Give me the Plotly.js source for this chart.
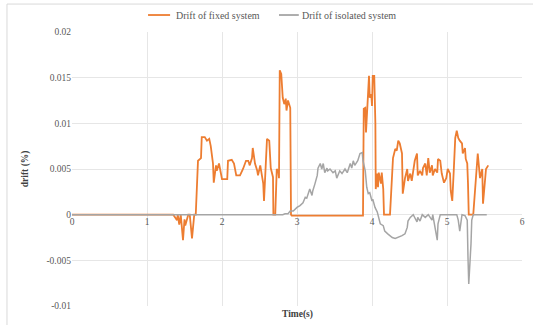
<!DOCTYPE html>
<html>
<head>
<meta charset="utf-8">
<script src="https://cdn.plot.ly/plotly-3.0.1.min.js"></script>
<style>
html,body{margin:0;padding:0;background:#fff;}
#chart{width:533px;height:325px;}
</style>
</head>
<body>
<div id="chart"></div>
<script>
// Drift of fixed system (orange)
const fixedTime = [0, 1.35, 1.40, 1.41, 1.43, 1.45, 1.48, 1.50, 1.51, 1.55, 1.57, 1.60, 1.63, 1.65, 1.68, 1.72, 1.73, 1.77, 1.80, 1.83, 1.85, 1.88, 1.89, 1.92, 1.93, 1.96, 2.00, 2.07, 2.08, 2.13, 2.16, 2.19, 2.24, 2.28, 2.32, 2.35, 2.37, 2.40, 2.41, 2.44, 2.47, 2.48, 2.51, 2.55, 2.56, 2.59, 2.60, 2.63, 2.65, 2.68, 2.685, 2.71, 2.73, 2.75, 2.76, 2.77, 2.79, 2.81, 2.83, 2.85, 2.86, 2.88, 2.91, 2.92, 2.93, 3.3, 3.88,
  3.89, 3.91, 3.92, 3.95, 3.96, 3.97, 3.99, 4.00, 4.01, 4.03, 4.045, 4.05, 4.07, 4.08, 4.09, 4.12, 4.13, 4.15, 4.16, 4.24, 4.27, 4.28, 4.31, 4.33, 4.35, 4.37, 4.40, 4.41, 4.44, 4.47, 4.48, 4.51, 4.53, 4.55, 4.57, 4.60, 4.61, 4.64, 4.67, 4.68, 4.71, 4.73, 4.75, 4.77, 4.80, 4.81, 4.84, 4.87, 4.88, 4.91, 4.92, 4.93, 4.96, 4.99, 5.01, 5.04, 5.05, 5.07, 5.09, 5.11, 5.13, 5.15, 5.17, 5.20, 5.21, 5.24, 5.25, 5.27, 5.28, 5.29, 5.35, 5.37, 5.40, 5.41, 5.44, 5.47, 5.48, 5.51, 5.52, 5.55];
const fixedDrift = [0, 0, -0.0006, 0, -0.0011, 0, -0.0028, -0.0005, -0.0012, 0, 0, -0.0026, 0, 0, 0.0059, 0.0062, 0.0085, 0.0085, 0.0081, 0.0083, 0.0075, 0.0056, 0.0035, 0.0054, 0.0048, 0.0056, 0.0039, 0.0039, 0.0059, 0.0060, 0.0056, 0.0043, 0.0043, 0.0050, 0.0059, 0.0059, 0.0054, 0.0062, 0.0073, 0.0056, 0.0048, 0.0043, 0.0054, 0.0034, 0.0015, 0.0073, 0.0083, 0.0081, 0.0051, 0.0041, 0, 0, 0.0050, 0.0048, 0.0040, 0.0158, 0.0154, 0.0128, 0.0121, 0.0127, 0.0114, 0.0125, 0.0117, 0, -0.0001, -0.0001, -0.0001,
  0.0116, 0.0117, 0.0090, 0.0152, 0.0152, 0.0128, 0.0132, 0.0119, 0.0152, 0.0152, 0.0100, 0.0028, 0.0045, 0.0030, 0.0046, 0.0034, 0.0046, 0.0028, 0, 0, 0.0061, 0.0062, 0.0072, 0.0070, 0.0081, 0.0078, 0.0067, 0.0023, 0.0040, 0.0050, 0.0037, 0.0045, 0.0037, 0.0046, 0.0059, 0.0067, 0.0043, 0.0048, 0.0043, 0.0051, 0.0056, 0.0043, 0.0062, 0.0046, 0.0054, 0.0043, 0.0050, 0.0046, 0.0061, 0.0059, 0.0051, 0.0045, 0.0035, 0.0040, 0.0050, 0.0045, 0.0026, 0.0015, 0.0048, 0.0084, 0.0092, 0.0084, 0.0081, 0.0078, 0.0067, 0.0073, 0.0061, 0.0056, 0.0034, 0, 0, 0.0026, 0.0062, 0.0067, 0.0040, 0.0050, 0.0012, 0.0040, 0.0050, 0.0054];

// Drift of isolated system (gray)
const isoTime = [0, 2.73, 2.81, 2.84, 2.88, 2.91, 2.95, 3.00, 3.04, 3.08, 3.11, 3.13, 3.15, 3.17, 3.20, 3.21, 3.24, 3.27, 3.28, 3.31, 3.33, 3.35, 3.37, 3.40, 3.41, 3.44, 3.48, 3.51, 3.53, 3.57, 3.60, 3.64, 3.67, 3.71, 3.73, 3.75, 3.77, 3.80, 3.81, 3.84, 3.87, 3.88, 3.91, 3.93, 3.95, 3.97, 4.00, 4.01, 4.04, 4.07, 4.08, 4.11, 4.15, 4.17, 4.21, 4.27, 4.31, 4.35, 4.40, 4.44, 4.47, 4.48, 4.51, 4.55, 4.60, 4.61, 4.64, 4.67, 4.71, 4.75, 4.80, 4.81, 4.84, 4.87, 4.88, 4.91, 5.13, 5.15, 5.17, 5.20, 5.24, 5.27, 5.28, 5.29, 5.32, 5.33, 5.35, 5.53];
const isoDrift = [0, 0, 0, 0.0001, 0.0001, 0.0004, 0.0004, 0.0008, 0.0010, 0.0013, 0.0019, 0.0018, 0.0024, 0.0028, 0.0021, 0.0026, 0.0034, 0.0043, 0.0051, 0.0056, 0.0050, 0.0056, 0.0046, 0.0051, 0.0048, 0.0050, 0.0046, 0.0048, 0.0040, 0.0048, 0.0045, 0.0050, 0.0046, 0.0056, 0.0051, 0.0059, 0.0054, 0.0057, 0.0059, 0.0067, 0.0068, 0.0059, 0.0048, 0.0030, 0.0023, 0.0024, 0.0015, 0.0017, 0.0008, 0.0003, 0, -0.0010, -0.0012, -0.0018, -0.0021, -0.0025, -0.0026, -0.0025, -0.0023, -0.0021, -0.0014, -0.0007, -0.0003, 0, -0.0008, -0.0003, -0.0007, 0, -0.0003, 0, -0.0006, 0, -0.0012, -0.0028, -0.0010, 0, 0, -0.0006, -0.0018, 0, -0.0001, -0.0006, -0.0047, -0.0076, -0.0032, -0.0006, 0, 0];

const seriesNames = ["Drift of fixed system", "Drift of isolated system"];
const seriesColors = ["#ED7D31", "#A5A5A5"];
const yTickVals = [-0.01, -0.005, 0, 0.005, 0.01, 0.015, 0.02];
const yTickText = ["-0.01", "-0.005", "0", "0.005", "0.01", "0.015", "0.02"];
const xTickVals = [0, 1, 2, 3, 4, 5, 6];
const xTickText = ["0", "1", "2", "3", "4", "5", "6"];
const xTitle = "Time(s)";
const yTitle = "drift (%)";

const serif = "Liberation Serif, DejaVu Serif, serif";

const traces = [
  {x: fixedTime, y: fixedDrift, name: seriesNames[0], type: "scatter", mode: "lines",
   line: {color: seriesColors[0], width: 1.8}},
  {x: isoTime, y: isoDrift, name: seriesNames[1], type: "scatter", mode: "lines",
   line: {color: seriesColors[1], width: 1.5}}
];

// custom legend (line sample + text) placed as in the reference
const legY = 1.062;
const legItems = [
  {x0: 0.169, x1: 0.218, tx: 0.226},
  {x0: 0.460, x1: 0.504, tx: 0.507}
];
const legShapes = legItems.map((it, i) => ({type: "line", xref: "paper", yref: "paper",
  x0: it.x0, x1: it.x1, y0: legY, y1: legY, line: {color: seriesColors[i], width: 1.8}}));
const legAnns = legItems.map((it, i) => ({text: seriesNames[i], xref: "paper", yref: "paper",
  x: it.tx, y: legY, xanchor: "left", yanchor: "middle", showarrow: false,
  font: {family: serif, size: 10, color: "#595959"}}));

const layout = {
  width: 533, height: 325,
  margin: {l: 72, r: 11, t: 32, b: 19},
  paper_bgcolor: "#fff", plot_bgcolor: "#fff",
  font: {family: serif, size: 9.5, color: "#595959"},
  showlegend: false,
  xaxis: {range: [0, 6], tickvals: xTickVals, ticktext: xTickText,
    showgrid: true, gridcolor: "#e6e6e6", gridwidth: 1, zeroline: false, showline: false,
    ticks: "", anchor: "free", position: 1/3,
    tickfont: {family: serif, size: 9.5, color: "#595959"}},
  yaxis: {range: [-0.01, 0.02], tickvals: yTickVals, ticktext: yTickText,
    showgrid: true, gridcolor: "#e6e6e6", gridwidth: 1, zeroline: false, showline: false,
    ticks: "", domain: [0, 1],
    tickfont: {family: serif, size: 9.5, color: "#595959"}},
  annotations: [
    {text: "<b>" + xTitle + "</b>", xref: "paper", yref: "paper", x: 0.5, y: -0.03,
     xanchor: "center", yanchor: "middle", showarrow: false,
     font: {family: serif, size: 9.5, color: "#404040"}},
    {text: "<b>" + yTitle + "</b>", xref: "paper", yref: "paper", x: -0.104, y: 0.5,
     xanchor: "center", yanchor: "middle", textangle: -90, showarrow: false,
     font: {family: serif, size: 9.5, color: "#404040"}}
  ].concat(legAnns),
  shapes: [
    {type: "rect", xref: "paper", yref: "paper", x0: -0.1445, x1: 1.1, y0: -0.2, y1: 1.102,
     line: {color: "#d9d9d9", width: 1}, fillcolor: "rgba(0,0,0,0)", layer: "below"}
  ].concat(legShapes)
};

Plotly.newPlot("chart", traces, layout, {staticPlot: true, displayModeBar: false});
</script>
</body>
</html>
